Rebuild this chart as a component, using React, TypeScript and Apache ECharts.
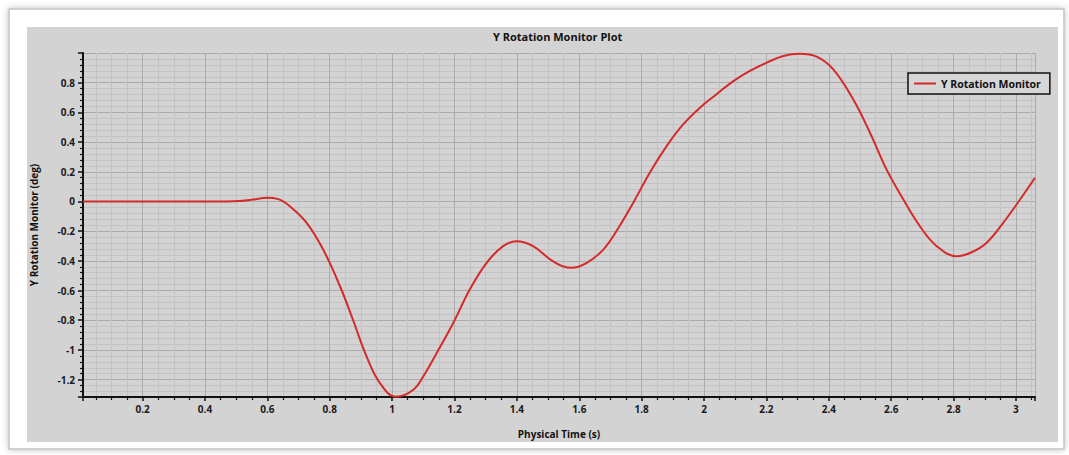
import React, { useEffect, useRef } from "react";
import * as echarts from "echarts";

const TITLE = "Y Rotation Monitor Plot";
const SERIES_NAME = "Y Rotation Monitor";
const X_NAME = "Physical Time (s)";
const Y_NAME = "Y Rotation Monitor (deg)";

const timeValues = [
  0.009, 0.1, 0.2, 0.3, 0.4, 0.47, 0.512, 0.555, 0.598, 0.635, 0.672, 0.726,
  0.779, 0.833, 0.875, 0.918, 0.961, 1.012, 1.068, 1.105, 1.143,
  1.196, 1.249, 1.303, 1.356, 1.399, 1.452, 1.516, 1.575, 1.624, 1.677, 1.725,
  1.773, 1.826, 1.88, 1.933, 1.987, 2.04, 2.094, 2.147, 2.201, 2.254, 2.307,
  2.361, 2.415, 2.478, 2.532, 2.585, 2.639, 2.692, 2.746, 2.81, 2.858,
  2.906, 2.959, 3.013, 3.061,
];
const rotationValues = [
  0, 0, 0, 0, 0, 0, 0.003, 0.013, 0.025, 0.016, -0.032, -0.144,
  -0.324, -0.571, -0.8, -1.043, -1.223, -1.315, -1.268, -1.16, -1.02,
  -0.818, -0.593, -0.413, -0.301, -0.268, -0.301, -0.403, -0.447, -0.413, -0.324, -0.18,
  -0.009, 0.194, 0.373, 0.519, 0.632, 0.722, 0.811, 0.879, 0.935, 0.98, 0.995,
  0.975, 0.888, 0.688, 0.463, 0.216, 0.013, -0.167, -0.301, -0.369, -0.342,
  -0.278, -0.144, 0.013, 0.16,
];
const X_RANGE = [0.009, 3.061];
const Y_RANGE = [-1.317, 1.0];

const FONT = "'Open Sans', 'DejaVu Sans', sans-serif";

export default function App() {
  const ref = useRef<HTMLDivElement>(null);
  useEffect(() => {
    const chart = echarts.init(ref.current!, null, { renderer: "svg" });
    const data = timeValues.map((t, i) => [t, rotationValues[i]]);
    chart.setOption({
      animation: false,
      backgroundColor: "#ffffff",
      graphic: [
        {
          type: "rect",
          z: -100,
          shape: { x: 9, y: 9, width: 1055, height: 440 },
          style: {
            fill: "#ffffff",
            stroke: "#c4c4c4",
            lineWidth: 1.5,
            shadowBlur: 6,
            shadowColor: "rgba(0,0,0,0.25)",
          },
        },
        {
          type: "rect",
          z: -99,
          shape: { x: 27, y: 27, width: 1031, height: 415 },
          style: { fill: "#d3d3d3" },
        },
      ],
      title: {
        text: TITLE,
        left: 488,
        top: 26,
        textStyle: { fontFamily: FONT, fontSize: 11, fontWeight: "bold", color: "#111" },
      },
      legend: {
        left: 908,
        top: 73,
        padding: [5, 9, 5, 6],
        itemWidth: 22,
        itemHeight: 2,
        itemGap: 5,
        icon: "rect",
        backgroundColor: "#d6d6d6",
        borderColor: "#111",
        borderWidth: 1.5,
        textStyle: { fontFamily: FONT, fontSize: 10.5, fontWeight: "bold", color: "#111" },
        data: [SERIES_NAME],
      },
      grid: { left: 83, top: 53, right: 34, bottom: 58 },
      xAxis: {
        type: "value",
        min: X_RANGE[0],
        max: X_RANGE[1],
        splitNumber: 15,
        name: X_NAME,
        nameLocation: "middle",
        nameGap: 32,
        nameTextStyle: { fontFamily: FONT, fontSize: 10, fontWeight: "bold", color: "#111" },
        axisLine: { show: true, onZero: false, lineStyle: { color: "#111", width: 2 } },
        axisTick: { show: true, length: 4, lineStyle: { color: "#111", width: 1.5 } },
        minorTick: { show: true, splitNumber: 4, length: 3, lineStyle: { color: "#111", width: 1.2 } },
        axisLabel: {
          showMinLabel: false,
          showMaxLabel: false,
          margin: 7,
          fontFamily: FONT,
          fontSize: 10,
          fontWeight: "bold",
          color: "#1a1a1a",
        },
        splitLine: { show: true, lineStyle: { color: "#ababab", width: 1 } },
        minorSplitLine: { show: true, lineStyle: { color: "#c3c3c3", width: 1 } },
      },
      yAxis: {
        type: "value",
        min: Y_RANGE[0],
        max: Y_RANGE[1],
        splitNumber: 10,
        name: Y_NAME,
        nameLocation: "middle",
        nameGap: 44,
        nameTextStyle: { fontFamily: FONT, fontSize: 10, fontWeight: "bold", color: "#111" },
        axisLine: { show: true, onZero: false, lineStyle: { color: "#111", width: 2 } },
        axisTick: { show: true, length: 5, lineStyle: { color: "#111", width: 1.5 } },
        minorTick: { show: true, splitNumber: 5, length: 3, lineStyle: { color: "#111", width: 1.2 } },
        axisLabel: {
          showMinLabel: false,
          showMaxLabel: false,
          margin: 8,
          fontFamily: FONT,
          fontSize: 10,
          fontWeight: "bold",
          color: "#1a1a1a",
        },
        splitLine: { show: true, lineStyle: { color: "#ababab", width: 1 } },
        minorSplitLine: { show: true, lineStyle: { color: "#c3c3c3", width: 1 } },
      },
      series: [
        {
          name: SERIES_NAME,
          type: "line",
          data,
          smooth: 0.4,
          symbol: "none",
          lineStyle: { color: "#d42a2a", width: 2 },
          itemStyle: { color: "#d42a2a" },
        },
      ],
    });
    return () => chart.dispose();
  }, []);
  return (
    <div
      ref={ref}
      style={{ position: "fixed", left: 0, top: 0, width: 1069, height: 455 }}
    />
  );
}
